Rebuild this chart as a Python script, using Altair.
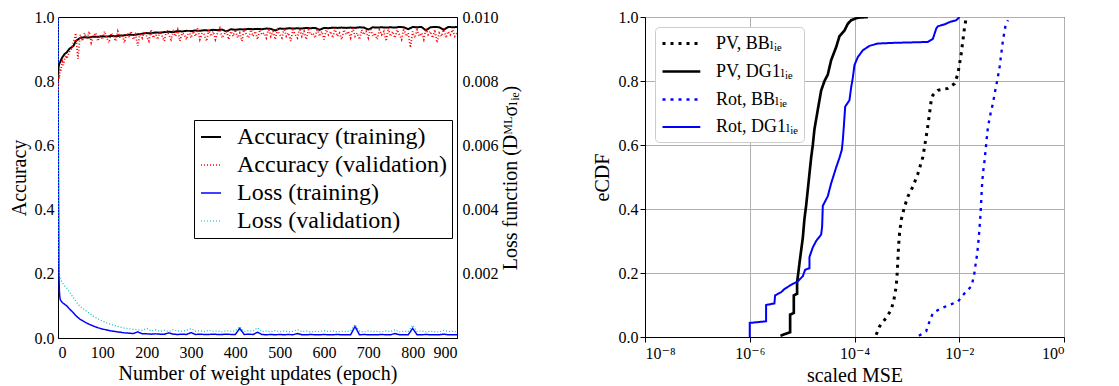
import altair as alt
import pandas as pd

FONT = "Liberation Serif, DejaVu Serif, serif"

# ---------------- left panel: training history ----------------
left_series = ["Accuracy (training)", "Accuracy (validation)", "Loss (training)", "Loss (validation)"]

acc_train_epoch = [0, 1, 2, 3, 5, 8, 10, 15, 20, 25, 30, 35, 40, 45] + list(range(50, 901, 10))
acc_train = [0.80, 0.84, 0.85, 0.855, 0.86, 0.87, 0.875, 0.885, 0.89, 0.90, 0.905, 0.91, 0.925, 0.93,
             0.935, 0.937, 0.936, 0.939, 0.938, 0.940, 0.939, 0.941, 0.940, 0.942,
             0.943, 0.945, 0.944, 0.946, 0.948, 0.950, 0.949, 0.952, 0.951, 0.953,
             0.954, 0.953, 0.956, 0.955, 0.957, 0.956, 0.958, 0.957, 0.959, 0.958,
             0.960, 0.959, 0.961, 0.955, 0.962, 0.960, 0.962, 0.961, 0.963, 0.962,
             0.963, 0.962, 0.964, 0.963, 0.958, 0.964, 0.963, 0.965, 0.964, 0.965,
             0.964, 0.966, 0.965, 0.966, 0.960, 0.966, 0.965, 0.967, 0.966, 0.967,
             0.966, 0.967, 0.966, 0.968, 0.967, 0.961, 0.968, 0.967, 0.968, 0.967,
             0.968, 0.967, 0.969, 0.968, 0.962, 0.969, 0.968, 0.969, 0.958, 0.968,
             0.969, 0.968, 0.960, 0.969, 0.968, 0.969]

acc_val_epoch = [0, 1, 2, 3, 4, 5, 6, 8, 10, 12, 15, 18, 20, 25, 30, 35, 40, 45] + list(range(50, 901, 5))
acc_val = [0.77, 0.80, 0.82, 0.81, 0.83, 0.84, 0.83, 0.85, 0.86, 0.85, 0.87, 0.88, 0.87, 0.89, 0.90, 0.92, 0.95, 0.87,
           0.945, 0.925, 0.950, 0.930, 0.955, 0.920, 0.940, 0.950, 0.925, 0.945,
           0.930, 0.955, 0.935, 0.920, 0.950, 0.940, 0.925, 0.955, 0.935, 0.945,
           0.920, 0.950, 0.940, 0.955, 0.930, 0.945, 0.910, 0.950, 0.935, 0.955,
           0.940, 0.925, 0.960, 0.935, 0.950, 0.930, 0.955, 0.940, 0.925, 0.960,
           0.945, 0.930, 0.955, 0.940, 0.960, 0.925, 0.950, 0.945, 0.930, 0.960,
           0.935, 0.955, 0.940, 0.965, 0.930, 0.950, 0.945, 0.925, 0.960, 0.940,
           0.955, 0.930, 0.950, 0.965, 0.935, 0.945, 0.960, 0.930, 0.955, 0.940,
           0.960, 0.935, 0.950, 0.925, 0.965, 0.945, 0.935, 0.960, 0.940, 0.955,
           0.930, 0.960, 0.945, 0.950, 0.935, 0.965, 0.940, 0.955, 0.930, 0.960,
           0.945, 0.935, 0.965, 0.940, 0.950, 0.925, 0.960, 0.945, 0.935, 0.965,
           0.940, 0.955, 0.930, 0.960, 0.945, 0.950, 0.935, 0.965, 0.940, 0.955,
           0.930, 0.960, 0.945, 0.955, 0.935, 0.965, 0.940, 0.950, 0.930, 0.960,
           0.945, 0.955, 0.935, 0.965, 0.940, 0.950, 0.930, 0.960, 0.945, 0.955,
           0.935, 0.965, 0.940, 0.950, 0.930, 0.960, 0.945, 0.955, 0.925, 0.965,
           0.940, 0.955, 0.935, 0.960, 0.945, 0.930, 0.965, 0.940, 0.950, 0.905,
           0.955, 0.935, 0.960, 0.940, 0.950, 0.930, 0.965, 0.945, 0.955, 0.935,
           0.960, 0.920, 0.950, 0.940, 0.965, 0.935, 0.955, 0.945, 0.960, 0.940,
           0.950]

loss_train_epoch = [0, 1, 2, 3, 4, 5, 7, 10, 15, 20, 25, 30, 35, 40, 45, 50, 60, 70, 80, 90, 100] + list(range(110, 901, 10))
loss_train = [0.0100, 0.0050, 0.0022, 0.0015, 0.0013, 0.0012, 0.00115, 0.0011, 0.00105, 0.00100, 0.00092,
              0.00085, 0.00078, 0.00070, 0.00064, 0.00058, 0.00050, 0.00043, 0.00037, 0.00032, 0.00028,
              0.00025, 0.00022, 0.00020, 0.00018, 0.00016, 0.00015, 0.00014, 0.00019, 0.00013, 0.00013,
              0.00012, 0.00013, 0.00012, 0.00012, 0.00016, 0.00012, 0.00011, 0.00012, 0.00011, 0.00017,
              0.00011, 0.00012, 0.00011, 0.00011, 0.00012, 0.00011, 0.00011, 0.00012, 0.00011, 0.00011,
              0.00030, 0.00011, 0.00012, 0.00011, 0.00018, 0.00011, 0.00010, 0.00011, 0.00010, 0.00011,
              0.00010, 0.00011, 0.00010, 0.00014, 0.00010, 0.00010, 0.00011, 0.00010, 0.00010, 0.00011,
              0.00010, 0.00010, 0.00011, 0.00010, 0.00010, 0.00010, 0.00036, 0.00010, 0.00011, 0.00010,
              0.00010, 0.00010, 0.00011, 0.00010, 0.00010, 0.00014, 0.00010, 0.00010, 0.00010, 0.00030,
              0.00010, 0.00010, 0.00011, 0.00010, 0.00010, 0.00010, 0.00012, 0.00010, 0.00010, 0.00010]

loss_val_epoch = [0, 1, 2, 3, 4, 5, 7, 10, 15, 20, 25, 30, 35, 40, 45, 50, 60, 70, 80, 90, 100,
                  110, 120, 130, 140, 150, 160, 170, 180, 190, 200] + list(range(210, 901, 10))
loss_val = [0.0100, 0.0045, 0.0025, 0.0020, 0.0019, 0.00185, 0.0018, 0.00172, 0.00162, 0.00155, 0.00145,
            0.00135, 0.00125, 0.00115, 0.00105, 0.00098, 0.00088, 0.00078, 0.00068, 0.00060, 0.00053,
            0.00047, 0.00042, 0.00038, 0.00034, 0.00031, 0.00029, 0.00027, 0.00026, 0.00024, 0.00030,
            0.00022, 0.00025, 0.00021, 0.00024, 0.00020, 0.00026, 0.00022, 0.00021, 0.00024, 0.00029,
            0.00021, 0.00023, 0.00020, 0.00024, 0.00021, 0.00022, 0.00019, 0.00023, 0.00021, 0.00022,
            0.00035, 0.00020, 0.00023, 0.00021, 0.00032, 0.00020, 0.00022, 0.00019, 0.00023, 0.00020,
            0.00022, 0.00019, 0.00021, 0.00026, 0.00020, 0.00022, 0.00019, 0.00021, 0.00020, 0.00023,
            0.00020, 0.00022, 0.00019, 0.00021, 0.00020, 0.00022, 0.00042, 0.00021, 0.00019, 0.00022,
            0.00020, 0.00021, 0.00019, 0.00022, 0.00020, 0.00026, 0.00019, 0.00021, 0.00020, 0.00040,
            0.00020, 0.00022, 0.00019, 0.00021, 0.00020, 0.00019, 0.00024, 0.00020, 0.00021, 0.00019]

# ---------------- right panel: eCDF of scaled MSE ----------------
right_series = ["PV, BBₗᵢₑ", "PV, DG1ₗᵢₑ", "Rot, BBₗᵢₑ", "Rot, DG1ₗᵢₑ"]

pv_bb_log10 = [-3.586, -3.522, -3.395, -3.299, -3.248, -3.204, -3.185, -3.172, -3.159, -3.140, -3.108, -3.045,
               -2.981, -2.885, -2.790, -2.694, -2.662, -2.611, -2.567, -2.535, -2.503, -2.408, -2.217, -2.089,
               -2.025, -1.994, -1.962, -1.930, -1.898, -1.866]
pv_bb_cdf = [0.007, 0.033, 0.06, 0.085, 0.116, 0.158, 0.2, 0.24, 0.283, 0.324, 0.366, 0.407, 0.439, 0.47,
             0.51, 0.563, 0.595, 0.647, 0.699, 0.74, 0.756, 0.771, 0.777, 0.792, 0.823, 0.854, 0.886, 0.927,
             0.969, 0.998]

pv_dg1_log10 = [-5.414, -5.229, -5.229, -5.159, -5.159, -5.096, -5.096, -5.051, -4.987, -4.955, -4.924, -4.892,
                -4.828, -4.796, -4.764, -4.701, -4.637, -4.573, -4.510, -4.446, -4.350, -4.287, -4.191, -4.127,
                -4.064, -3.936, -3.745]
pv_dg1_cdf = [0.004, 0.015, 0.07, 0.075, 0.13, 0.135, 0.17, 0.23, 0.31, 0.37, 0.41, 0.46, 0.56, 0.60, 0.65,
              0.71, 0.77, 0.80, 0.82, 0.865, 0.906, 0.94, 0.958, 0.979, 0.99, 0.998, 1.0]

rot_bb_log10 = [-2.771, -2.631, -2.567, -2.503, -2.344, -2.185, -2.025, -1.898, -1.771, -1.720, -1.694, -1.656,
                -1.631, -1.611, -1.592, -1.580, -1.567, -1.548, -1.516, -1.484, -1.452, -1.401, -1.357, -1.312,
                -1.274, -1.229, -1.197, -1.166, -1.121, -1.070]
rot_bb_cdf = [0.004, 0.018, 0.049, 0.075, 0.09, 0.1, 0.111, 0.137, 0.158, 0.189, 0.22, 0.262, 0.304, 0.345,
              0.387, 0.428, 0.47, 0.511, 0.553, 0.605, 0.657, 0.699, 0.73, 0.771, 0.802, 0.844, 0.886, 0.927,
              0.969, 0.99]

rot_dg1_log10 = [-6.0, -6.0, -5.688, -5.688, -5.529, -5.516, -5.401, -5.338, -5.210, -5.083, -4.987, -4.943,
                 -4.860, -4.860, -4.796, -4.732, -4.637, -4.618, -4.605, -4.573, -4.510, -4.446, -4.350, -4.287,
                 -4.242, -4.223, -4.204, -4.178, -4.096, -4.064, -4.032, -4.0, -3.936, -3.841, -3.713, -3.554,
                 -3.299, -2.599, -2.503, -2.439, -2.408, -2.280, -2.185, -2.057, -1.994]
rot_dg1_cdf = [0.0, 0.044, 0.049, 0.10, 0.105, 0.13, 0.14, 0.15, 0.163, 0.174, 0.19, 0.21, 0.215, 0.25, 0.28,
               0.30, 0.32, 0.345, 0.41, 0.42, 0.44, 0.48, 0.53, 0.56, 0.585, 0.615, 0.657, 0.72, 0.74, 0.78,
               0.81, 0.85, 0.875, 0.896, 0.91, 0.917, 0.919, 0.922, 0.932, 0.964, 0.971, 0.977, 0.984, 0.99, 1.0]


def frame(name, xs, ys, xname, yname):
    return pd.DataFrame({xname: xs, yname: ys, "series": name, "idx": range(len(xs))})


acc_df = pd.concat([frame(left_series[0], acc_train_epoch, acc_train, "epoch", "value"),
                    frame(left_series[1], acc_val_epoch, acc_val, "epoch", "value")])
loss_df = pd.concat([frame(left_series[2], loss_train_epoch, loss_train, "epoch", "value"),
                     frame(left_series[3], loss_val_epoch, loss_val, "epoch", "value")])
ecdf_df = pd.concat([
    frame(right_series[0], [10 ** v for v in pv_bb_log10], pv_bb_cdf, "mse", "cdf"),
    frame(right_series[1], [10 ** v for v in pv_dg1_log10], pv_dg1_cdf, "mse", "cdf"),
    frame(right_series[2], [10 ** v for v in rot_bb_log10], rot_bb_cdf, "mse", "cdf"),
    frame(right_series[3], [10 ** v for v in rot_dg1_log10], rot_dg1_cdf, "mse", "cdf"),
])

# ---------------- scales & legends ----------------
l_color = alt.Scale(domain=left_series, range=["#000000", "#ff0000", "#0000ff", "#00bfbf"])
l_dash = alt.Scale(domain=left_series, range=[[1, 0], [1, 2], [1, 0], [1, 2]])
l_width = alt.Scale(domain=left_series, range=[2, 1.2, 2, 1.5])
l_leg = alt.Legend(title=None, orient="none", legendX=136, legendY=103, symbolType="stroke",
                   symbolSize=400, labelFontSize=24, labelFont=FONT, labelColor="black",
                   strokeColor="black", fillColor="white", padding=5, rowPadding=4,
                   labelOffset=14, cornerRadius=0, labelLimit=400)

r_color = alt.Scale(domain=right_series, range=["#000000", "#000000", "#0000ff", "#0000ff"])
r_dash = alt.Scale(domain=right_series, range=[[3, 5], [1, 0], [3, 5], [1, 0]])
r_width = alt.Scale(domain=right_series, range=[3, 2, 3, 2])
r_leg = alt.Legend(title=None, orient="none", legendX=10, legendY=10, symbolType="M-1,0H3.2",
                   symbolSize=324, labelFontSize=18, labelFont=FONT, labelColor="black",
                   strokeColor="#cccccc", fillColor="white", padding=6, rowPadding=8,
                   labelOffset=34, cornerRadius=4, labelLimit=300)

x_left = alt.X("epoch:Q", scale=alt.Scale(domain=[0, 900], nice=False),
               axis=alt.Axis(values=list(range(0, 901, 100)), format="d", ticks=False, grid=False,
                             labelPadding=6, title="Number of weight updates (epoch)", titlePadding=3))

acc_layer = alt.Chart(acc_df).mark_line(clip=True).encode(
    x=x_left,
    y=alt.Y("value:Q", scale=alt.Scale(domain=[0, 1], nice=False),
            axis=alt.Axis(values=[0, 0.2, 0.4, 0.6, 0.8, 1.0], format=".1f", ticks=False, grid=False,
                          labelPadding=4, title="Accuracy", titlePadding=5)),
    color=alt.Color("series:N", scale=l_color, legend=l_leg, sort=left_series),
    strokeDash=alt.StrokeDash("series:N", scale=l_dash, legend=l_leg, sort=left_series),
    strokeWidth=alt.StrokeWidth("series:N", scale=l_width, legend=l_leg, sort=left_series),
    order="idx:Q",
)

loss_layer = alt.Chart(loss_df).mark_line(clip=True).encode(
    x=x_left,
    y=alt.Y("value:Q", scale=alt.Scale(domain=[0, 0.01], nice=False),
            axis=alt.Axis(orient="right", values=[0.002, 0.004, 0.006, 0.008, 0.010], format=".3f",
                          ticks=False, grid=False, labelPadding=5, titleAngle=270, titleBaseline="top",
                          title="Loss function (Dᴹᴸσₗᵢₑ)", titlePadding=2)),
    color=alt.Color("series:N", scale=l_color, legend=l_leg, sort=left_series),
    strokeDash=alt.StrokeDash("series:N", scale=l_dash, legend=l_leg, sort=left_series),
    strokeWidth=alt.StrokeWidth("series:N", scale=l_width, legend=l_leg, sort=left_series),
    order="idx:Q",
)

left = alt.layer(loss_layer, acc_layer).resolve_scale(y="independent").properties(width=399, height=321)

sup_expr = ("datum.value <= 1.5e-8 ? '10⁻⁸' : datum.value <= 1.5e-6 ? '10⁻⁶' : "
            "datum.value <= 1.5e-4 ? '10⁻⁴' : datum.value <= 1.5e-2 ? '10⁻²' : '10⁰'")

right = alt.Chart(ecdf_df).mark_line(clip=True, strokeCap="butt").encode(
    x=alt.X("mse:Q", scale=alt.Scale(type="log", domain=[1e-8, 1], nice=False),
            axis=alt.Axis(values=[1e-8, 1e-6, 1e-4, 1e-2, 1], labelExpr=sup_expr, grid=True,
                          gridColor="#b0b0b0", tickSize=5, tickColor="black", labelPadding=3,
                          title="scaled MSE", titlePadding=4)),
    y=alt.Y("cdf:Q", scale=alt.Scale(domain=[0, 1], nice=False),
            axis=alt.Axis(values=[0, 0.2, 0.4, 0.6, 0.8, 1.0], format=".1f", grid=True,
                          gridColor="#b0b0b0", tickSize=5, tickColor="black", labelPadding=2,
                          title="eCDF", titlePadding=6)),
    color=alt.Color("series:N", scale=r_color, legend=r_leg, sort=right_series),
    strokeDash=alt.StrokeDash("series:N", scale=r_dash, legend=r_leg, sort=right_series),
    strokeWidth=alt.StrokeWidth("series:N", scale=r_width, legend=r_leg, sort=right_series),
    order="idx:Q",
).properties(width=419, height=320)

chart = alt.hconcat(left, right, spacing=70).resolve_scale(
    color="independent", strokeDash="independent", strokeWidth="independent"
).resolve_legend(color="independent", strokeDash="independent", strokeWidth="independent").properties(
    padding=0
).configure(font=FONT).configure_view(stroke="black", strokeWidth=1).configure_axis(
    labelFont=FONT, titleFont=FONT, labelFontSize=16, titleFontSize=20, titleFontWeight="normal",
    labelColor="black", titleColor="black", domainColor="black"
)

chart.save("out.html", embed_options={"renderer": "svg", "actions": False})
